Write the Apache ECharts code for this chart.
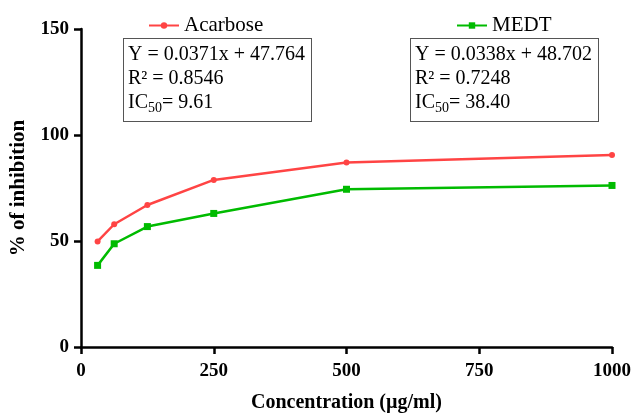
<!DOCTYPE html>
<html>
<head>
<meta charset="utf-8">
<script src="https://cdn.jsdelivr.net/npm/echarts@6/dist/echarts.min.js"></script>
<style>
  html, body { margin: 0; padding: 0; background: #fff; }
  #main { width: 633px; height: 415px; }
</style>
</head>
<body>
<div id="main"></div>
<script>
// 浓度 (µg/ml)
var concentrations = [31.25, 62.5, 125, 250, 500, 1000];
var acarbose = [49.8, 57.9, 67.0, 78.8, 87.0, 90.6];
var medt = [38.5, 48.7, 56.8, 63.0, 74.4, 76.2];
var fitAcarbose = ['Y = 0.0371x + 47.764', 'R² = 0.8546', '9.61'];
var fitMedt = ['Y = 0.0338x + 48.702', 'R² = 0.7248', '38.40'];

function pairs(xs, ys) {
  return xs.map(function (x, i) { return [x, ys[i]]; });
}

var serif = '"Liberation Serif", "Times New Roman", serif';

function fitBox(left, lines) {
  return {
    type: 'text',
    left: left,
    top: 38,
    style: {
      text: '{t|' + lines[0] + '}\n{t|' + lines[1] + '}\n{t|IC}{s|50}{t|= ' + lines[2] + '}',
      rich: {
        t: { fontFamily: serif, fontSize: 20, lineHeight: 24, fill: '#000' },
        s: { fontFamily: serif, fontSize: 14, lineHeight: 24, fill: '#000', verticalAlign: 'bottom', padding: [8, 0, 0, 0] }
      },
      backgroundColor: '#fff',
      borderColor: '#555',
      borderWidth: 1,
      padding: [4, 6, 6, 4]
    }
  };
}

var myChart = echarts.init(document.getElementById('main'));

var option = {
  animation: false,
  grid: { left: 81, right: 21, top: 29, bottom: 68, outerBoundsMode: 'none', containLabel: false },
  legend: [
    {
      data: ['Acarbose'],
      left: 143, top: 10,
      itemWidth: 30, itemHeight: 8, itemGap: 10,
      textStyle: { fontFamily: serif, fontSize: 21, color: '#000' }
    },
    {
      data: ['MEDT'],
      left: 451, top: 10,
      itemWidth: 30, itemHeight: 8,
      textStyle: { fontFamily: serif, fontSize: 21, color: '#000' }
    }
  ],
  xAxis: {
    type: 'value',
    min: 0, max: 1000, interval: 250,
    name: 'Concentration (µg/ml)',
    nameLocation: 'middle',
    nameGap: 46,
    nameTextStyle: { fontFamily: serif, fontSize: 20, fontWeight: 'bold', color: '#000' },
    axisLine: { lineStyle: { color: '#000', width: 2.5 } },
    axisTick: { show: true, length: 7, lineStyle: { color: '#000', width: 2.5 } },
    axisLabel: {
      fontFamily: serif, fontSize: 19, fontWeight: 'bold', color: '#000', margin: 15,
      formatter: function (v) { return String(v); }
    },
    splitLine: { show: false }
  },
  yAxis: {
    type: 'value',
    min: 0, max: 150, interval: 50,
    name: '% of inhibition',
    nameLocation: 'middle',
    nameGap: 52,
    nameTextStyle: { fontFamily: serif, fontSize: 21, fontWeight: 'bold', color: '#000' },
    axisLine: { show: true, lineStyle: { color: '#000', width: 2.5 } },
    axisTick: { show: true, length: 7, lineStyle: { color: '#000', width: 2.5 } },
    axisLabel: { fontFamily: serif, fontSize: 19, fontWeight: 'bold', color: '#000', margin: 12 },
    splitLine: { show: false }
  },
  series: [
    {
      name: 'Acarbose',
      type: 'line',
      data: pairs(concentrations, acarbose),
      symbol: 'circle',
      symbolSize: 6,
      itemStyle: { color: '#ff4444' },
      lineStyle: { color: '#ff4444', width: 2.5 }
    },
    {
      name: 'MEDT',
      type: 'line',
      data: pairs(concentrations, medt),
      symbol: 'rect',
      symbolSize: 7,
      itemStyle: { color: '#00bb00' },
      lineStyle: { color: '#00bb00', width: 2.5 }
    }
  ],
  graphic: [fitBox(123, fitAcarbose), fitBox(410, fitMedt)]
};

myChart.setOption(option);
</script>
</body>
</html>
